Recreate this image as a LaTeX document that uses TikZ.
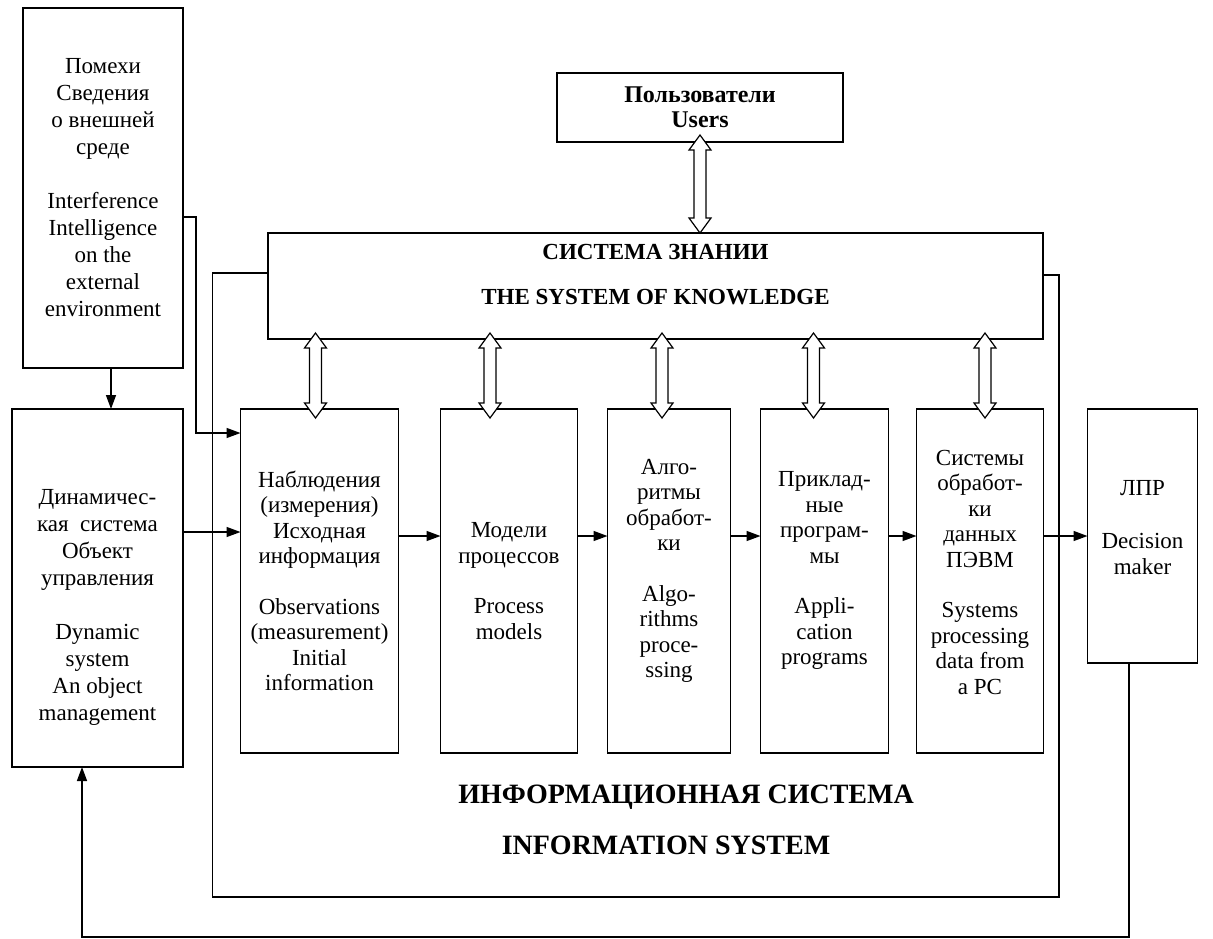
\documentclass[tikz,border=0pt]{standalone}
\usepackage{fontspec}
\setmainfont{Liberation Serif}
\usetikzlibrary{positioning,calc,arrows.meta}
\tikzset{>={Triangle[length=14pt,width=10pt]}}
\tikzstyle{block} = [rectangle, draw, line width=1.4pt, align=center, inner sep=0pt, outer sep=0pt,
    font=\fontsize{23}{25.5}\selectfont]
\tikzstyle{title} = [align=center, font=\fontsize{28}{34}\selectfont\bfseries]
\tikzstyle{dblarr} = [draw, fill=white, line width=1.2pt]
% hollow two-headed arrow: top tip at y of #1, bottom tip at #2
\newcommand{\dblarrow}[2]{%
  \path[dblarr] let \p1=#1, \p2=#2 in
    (\x2,\y1) -- (\x2+11pt,\y1-15pt) -- (\x2+6pt,\y1-15pt) -- (\x2+6pt,\y2+15pt)
    -- (\x2+11pt,\y2+15pt) -- (\x2,\y2) -- (\x2-11pt,\y2+15pt) -- (\x2-6pt,\y2+15pt)
    -- (\x2-6pt,\y1-15pt) -- (\x2-11pt,\y1-15pt) -- cycle;}

\begin{document}
\begin{tikzpicture}[x=1pt, y=-1pt, line width=1.4pt]
  \useasboundingbox (0,0) rectangle (1213,938);

  \node [block, minimum width=160pt, minimum height=360pt, font=\fontsize{23}{27}\selectfont] (env) at (103,188)
  {Помехи\\Сведения\\о внешней\\среде\\[27pt]Interference\\Intelligence\\on the\\external\\environment};
  \node [block, minimum width=171pt, minimum height=358pt, font=\fontsize{23}{27}\selectfont] (dyn) at (97.5,588)
  {\\[26pt]Динамичес-\\кая\ \ система\\Объект\\управления\\[27pt]Dynamic\\system\\An object\\management};

  \node [block, minimum width=286pt, minimum height=69pt, font=\fontsize{24}{25}\selectfont\bfseries] (users) at (700,107.5)
  {Пользователи\\Users};
  \node [block, minimum width=775pt, minimum height=106pt, font=\fontsize{23}{28}\selectfont\bfseries] (know) at (655.5,286)
  {СИСТЕМА ЗНАНИИ\\[17pt]THE SYSTEM OF KNOWLEDGE\\[-4pt]\mbox{}};

  % row of the information system
  \node [block, minimum width=158pt, minimum height=344pt] (obs) at (319.5,581)
  {Наблюдения\\(измерения)\\Исходная\\информация\\[25pt]Observations\\(measurement)\\Initial\\information};
  \node [block, minimum width=137pt, minimum height=344pt, right=42pt of obs] (models)
  {Модели\\процессов\\[25pt]Process\\models};
  \node [block, minimum width=123pt, minimum height=344pt, right=30pt of models] (algo)
  {Алго-\\ритмы\\обработ-\\ки\\[25pt]Algo-\\rithms\\proce-\\ssing\\\mbox{}};
  \node [block, minimum width=128pt, minimum height=344pt, right=30pt of algo] (app)
  {Приклад-\\ные\\програм-\\мы\\[25pt]Appli-\\cation\\programs\\\mbox{}};
  \node [block, minimum width=127pt, minimum height=344pt, right=28pt of app] (sys)
  {Системы\\обработ-\\ки\\данных\\ПЭВМ\\[25pt]Systems\\processing\\data from\\a PC\\[-8pt]\mbox{}};
  \node [block, minimum width=110pt, minimum height=254pt, right=44pt of sys.north east, anchor=north west] (dm)
  {ЛПР\\[28pt]Decision\\maker\\[-8pt]\mbox{}};

  \node [title] (istitle) at (686,797) {ИНФОРМАЦИОННАЯ СИСТЕМА};
  \node [title] (istitleen) at (666,845) {INFORMATION SYSTEM};

  \coordinate (envdrop) at (111,0);
  \coordinate (envbend) at (196,433);
  \coordinate (infoSW) at (212.5,897);
  \coordinate (infoNE) at (1059,275);
  \coordinate (fbR) at (1129,937);
  \coordinate (fbL) at (82,937);

  \draw[->] (env.south -| envdrop) -- (dyn.north -| envdrop);
  \draw[->] ([yshift=-29pt]env.east) -| (envbend) -- (envbend -| obs.west);
  \draw ([yshift=13pt]know.west) -| (infoSW) -| (infoNE) -- (infoNE -| know.east);
  \draw[->] ([yshift=49pt]obs.west -| dyn.east) -- ([yshift=49pt]obs.west);
  \foreach \a/\b in {obs/models, models/algo, algo/app, app/sys}
    \draw[->] (dm.west -| \a.east) -- (dm.west -| \b.west);
  \draw[->] (dm.west -| sys.east) -- (dm.west);
  \draw[->] (dm.south -| fbR) |- (fbL) -- (dyn.south -| fbL);

  \dblarrow{([yshift=7pt]users.south)}{(know.north -| users.south)}
  \foreach \b/\dx in {obs/-4, models/-19, algo/-7, app/-11, sys/5}
    {\dblarrow{([yshift=6pt]know.south)}{([xshift=\dx pt, yshift=-9pt]\b.north)}}
\end{tikzpicture}
\end{document}
